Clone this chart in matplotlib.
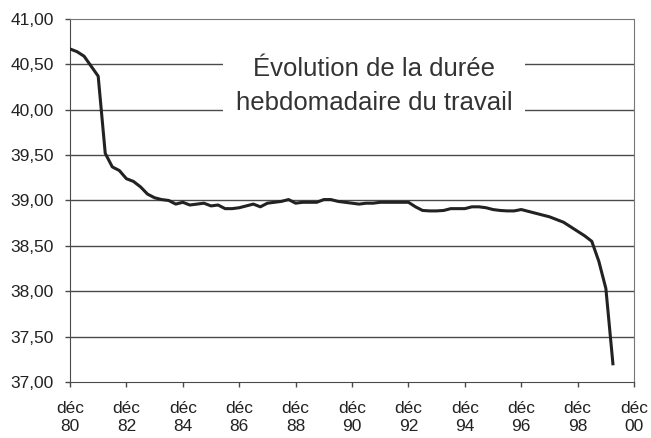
import numpy as np
import matplotlib
matplotlib.use("Agg")
import matplotlib.pyplot as plt

plt.rcParams['font.family'] = ['Liberation Sans', 'DejaVu Sans']

# quarterly series, starting december 1980
start_year = 1980 + 11 / 12
hours = [
    40.67, 40.64, 40.59, 40.48, 40.37, 39.52, 39.37, 39.33, 39.24, 39.21,
    39.15, 39.07, 39.03, 39.01, 39.00, 38.96, 38.98, 38.95, 38.96, 38.97,
    38.94, 38.95, 38.91, 38.91, 38.92, 38.94, 38.96, 38.93, 38.97, 38.98,
    38.99, 39.01, 38.97, 38.98, 38.98, 38.98, 39.01, 39.01, 38.99, 38.98,
    38.97, 38.96, 38.97, 38.97, 38.98, 38.98, 38.98, 38.98, 38.98, 38.93,
    38.89, 38.885, 38.885, 38.89, 38.91, 38.91, 38.91, 38.93, 38.93, 38.92,
    38.90, 38.89, 38.885, 38.885, 38.90, 38.88, 38.86, 38.84, 38.82, 38.79,
    38.76, 38.71, 38.66, 38.61, 38.55, 38.33, 38.03, 37.20,
]
tick_years = [80, 82, 84, 86, 88, 90, 92, 94, 96, 98, 0]
y_ticks = [37.0, 37.5, 38.0, 38.5, 39.0, 39.5, 40.0, 40.5, 41.0]
title = "Évolution de la durée\nhebdomadaire du travail"

x = start_year + 0.25 * np.arange(len(hours))
tick_pos = start_year + 2 * np.arange(len(tick_years))

fig = plt.figure(figsize=(6.51, 4.38), dpi=100)
ax = fig.add_axes([0.1075, 0.128, 0.8665, 0.8286])

grid_c = '#4a4a4a'
for yv in y_ticks[1:-1]:
    ax.axhline(yv, color=grid_c, lw=1.0, zorder=1)

ax.plot(x, hours, color='#222222', lw=2.2, solid_joinstyle='round', zorder=3)

ax.set_xlim(tick_pos[0], tick_pos[-1])
ax.set_ylim(37, 41)
ax.set_yticks(y_ticks)
ax.set_yticklabels([f"{v:.2f}".replace('.', ',') for v in y_ticks])
ax.set_xticks(tick_pos)
ax.set_xticklabels([f"déc\n{y:02d}" for y in tick_years], linespacing=1.25)

ax.tick_params(axis='both', direction='out', length=3.5, width=1, color=grid_c,
               labelsize=12.5, labelcolor='#222222')
ax.tick_params(axis='y', pad=8)
ax.tick_params(axis='x', pad=10)

ax.spines['left'].set_color(grid_c)
ax.spines['bottom'].set_color(grid_c)
for side in ['top', 'right']:
    ax.spines[side].set_color('#777777')
    ax.spines[side].set_linestyle((0, (1, 1)))
    ax.spines[side].set_linewidth(0.8)

ax.text(0.539, 0.815, title, transform=ax.transAxes, ha='center', va='center',
        fontsize=18.5, color='#333333', linespacing=1.5, zorder=4,
        bbox=dict(facecolor='white', edgecolor='none', pad=9))

fig.savefig("out.png", dpi=100)
